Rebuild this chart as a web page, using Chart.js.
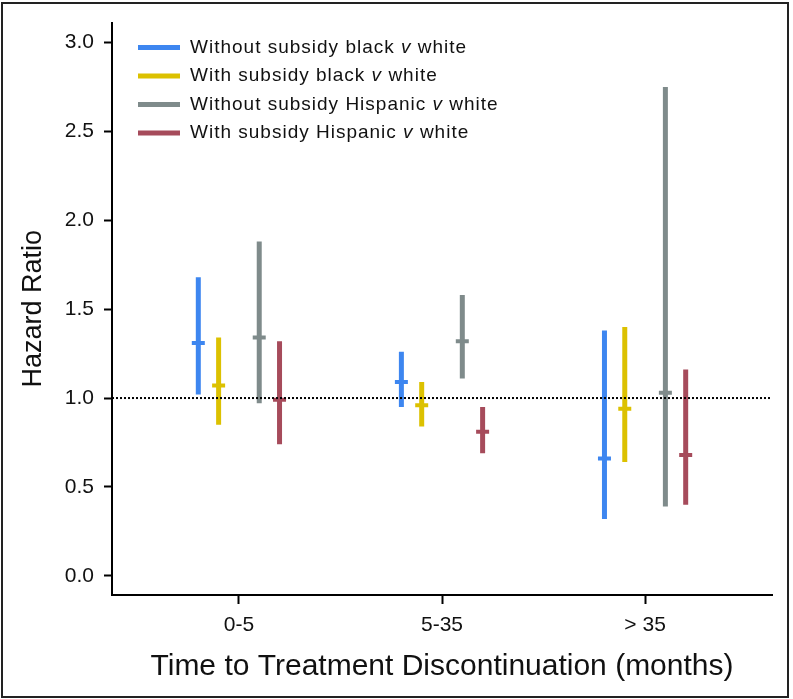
<!DOCTYPE html>
<html>
<head>
<meta charset="utf-8">
<script src="https://cdn.jsdelivr.net/npm/chart.js"></script>
<style>
  body { margin: 0; background: #fff; }
  #wrap { position: relative; width: 793px; height: 699px; }
  #frame { position: absolute; left: 1px; top: 2px; width: 784px; height: 692px; border: 2px solid #222; pointer-events: none; }
</style>
</head>
<body>
<div id="wrap">
  <canvas id="myChart" width="793" height="699"></canvas>
  <div id="frame"></div>
</div>
<script>
// categories on the x axis
const categories = ['0-5', '5-35', '> 35'];

const seriesNames = [
    'Without subsidy black v white',
    'With subsidy black v white',
    'Without subsidy Hispanic v white',
    'With subsidy Hispanic v white',
];

// hazard ratios and 95% CI per category
const noSubBlackHR = [1.31, 1.09, 0.66];
const noSubBlackLo = [1.02, 0.95, 0.32];
const noSubBlackHi = [1.68, 1.26, 1.38];

const subBlackHR = [1.07, 0.96, 0.94];
const subBlackLo = [0.85, 0.84, 0.64];
const subBlackHi = [1.34, 1.09, 1.40];

const noSubHispHR = [1.34, 1.32, 1.03];
const noSubHispLo = [0.97, 1.11, 0.39];
const noSubHispHi = [1.88, 1.58, 2.75];

const subHispHR = [0.99, 0.81, 0.68];
const subHispLo = [0.74, 0.69, 0.40];
const subHispHi = [1.32, 0.95, 1.16];

const yTicks = [0, 0.5, 1, 1.5, 2, 2.5, 3];
const refValue = 1.0;

const colors = ['#3d86f0', '#dcc100', '#7f8b8b', '#a64b5b'];
const offsets = [-0.2, -0.1, 0.1, 0.2];
const xMin = 0.375, xMax = 3.625;
const fontFamily = '"Liberation Sans", Arial, sans-serif';

const series = [
    { hr: noSubBlackHR, lo: noSubBlackLo, hi: noSubBlackHi },
    { hr: subBlackHR, lo: subBlackLo, hi: subBlackHi },
    { hr: noSubHispHR, lo: noSubHispLo, hi: noSubHispHi },
    { hr: subHispHR, lo: subHispLo, hi: subHispHi },
];

const datasets = [];

// dotted reference line at HR = 1
datasets.push({
    type: 'line',
    data: [{ x: xMin, y: refValue }, { x: xMax, y: refValue }],
    borderColor: '#000',
    borderWidth: 2,
    borderDash: [2, 2],
    pointRadius: 0,
    order: 0,
});

series.forEach((s, i) => {
    // whiskers: two points each, null between groups to break the line
    const ci = [];
    categories.forEach((c, k) => {
        const x = k + 1 + offsets[i];
        ci.push({ x: x, y: s.lo[k] }, { x: x, y: s.hi[k] }, { x: x, y: null });
    });
    datasets.push({
        type: 'line',
        label: seriesNames[i],
        data: ci,
        borderColor: colors[i],
        borderWidth: 5,
        borderCapStyle: 'butt',
        spanGaps: false,
        pointRadius: 0,
        order: 2,
    });
    // point estimate as a short horizontal dash
    datasets.push({
        type: 'scatter',
        data: s.hr.map((v, k) => ({ x: k + 1 + offsets[i], y: v })),
        showLine: false,
        pointStyle: 'line',
        pointRadius: 6.5,
        pointBorderWidth: 4,
        pointBorderColor: colors[i],
        pointBackgroundColor: colors[i],
        borderWidth: 4,
        borderColor: colors[i],
        order: 1,
    });
});

// legend drawn by hand so the "v" can be italic
const italicLegend = {
    id: 'italicLegend',
    afterDraw(chart) {
        const { ctx, chartArea } = chart;
        const normal = '19px ' + fontFamily;
        const italic = 'italic 19px ' + fontFamily;
        ctx.save();
        ctx.textBaseline = 'middle';
        ctx.letterSpacing = '1px';
        seriesNames.forEach((name, i) => {
            const x = chartArea.left + 26;
            const y = chartArea.top + 25 + i * 28.5;
            ctx.strokeStyle = colors[i];
            ctx.lineWidth = 5;
            ctx.lineCap = 'butt';
            ctx.beginPath();
            ctx.moveTo(x, y);
            ctx.lineTo(x + 42, y);
            ctx.stroke();

            const parts = name.split(' v ');
            let tx = x + 52;
            ctx.fillStyle = '#111';
            ctx.font = normal;
            ctx.fillText(parts[0] + ' ', tx, y);
            tx += ctx.measureText(parts[0] + ' ').width;
            ctx.font = italic;
            ctx.fillText('v', tx, y);
            tx += ctx.measureText('v').width;
            ctx.font = normal;
            ctx.fillText(' ' + parts[1], tx, y);
        });
        ctx.restore();
    }
};

const ctx = document.getElementById('myChart').getContext('2d');
const myChart = new Chart(ctx, {
    data: { datasets: datasets },
    plugins: [italicLegend],
    options: {
        responsive: false,
        animation: false,
        devicePixelRatio: 1,
        layout: { padding: { top: 22, right: 21, left: 0, bottom: 0 } },
        plugins: {
            legend: { display: false },
            tooltip: { enabled: false },
        },
        scales: {
            x: {
                type: 'linear',
                min: xMin,
                max: xMax,
                afterBuildTicks: (s) => { s.ticks = categories.map((c, k) => ({ value: k + 1 })); },
                afterFit: (s) => { s.height = 104; },
                grid: { drawOnChartArea: false, drawTicks: true, tickLength: 9, tickWidth: 2, tickColor: '#000' },
                border: { display: true, color: '#000', width: 2 },
                ticks: {
                    color: '#111',
                    padding: 9,
                    maxRotation: 0,
                    font: { family: fontFamily, size: 21 },
                    callback: (v) => categories[Math.round(v) - 1],
                },
                title: {
                    display: true,
                    text: 'Time to Treatment Discontinuation (months)',
                    color: '#111',
                    font: { family: fontFamily, size: 30, lineHeight: 1 },
                    padding: { top: 0, bottom: 17 },
                },
            },
            y: {
                type: 'linear',
                min: -0.108,
                max: 3.112,
                afterBuildTicks: (s) => { s.ticks = yTicks.map((v) => ({ value: v })); },
                afterFit: (s) => { s.width = 112; },
                grid: { drawOnChartArea: false, drawTicks: true, tickLength: 8, tickWidth: 2, tickColor: '#000' },
                border: { display: true, color: '#000', width: 2 },
                ticks: {
                    color: '#111',
                    padding: 10,
                    font: { family: fontFamily, size: 21 },
                    callback: (v) => v.toFixed(1),
                },
                title: {
                    display: true,
                    text: 'Hazard Ratio',
                    color: '#111',
                    font: { family: fontFamily, size: 27, lineHeight: 1 },
                    padding: { top: 20, bottom: 0 },
                },
            },
        },
    },
});
</script>
</body>
</html>
